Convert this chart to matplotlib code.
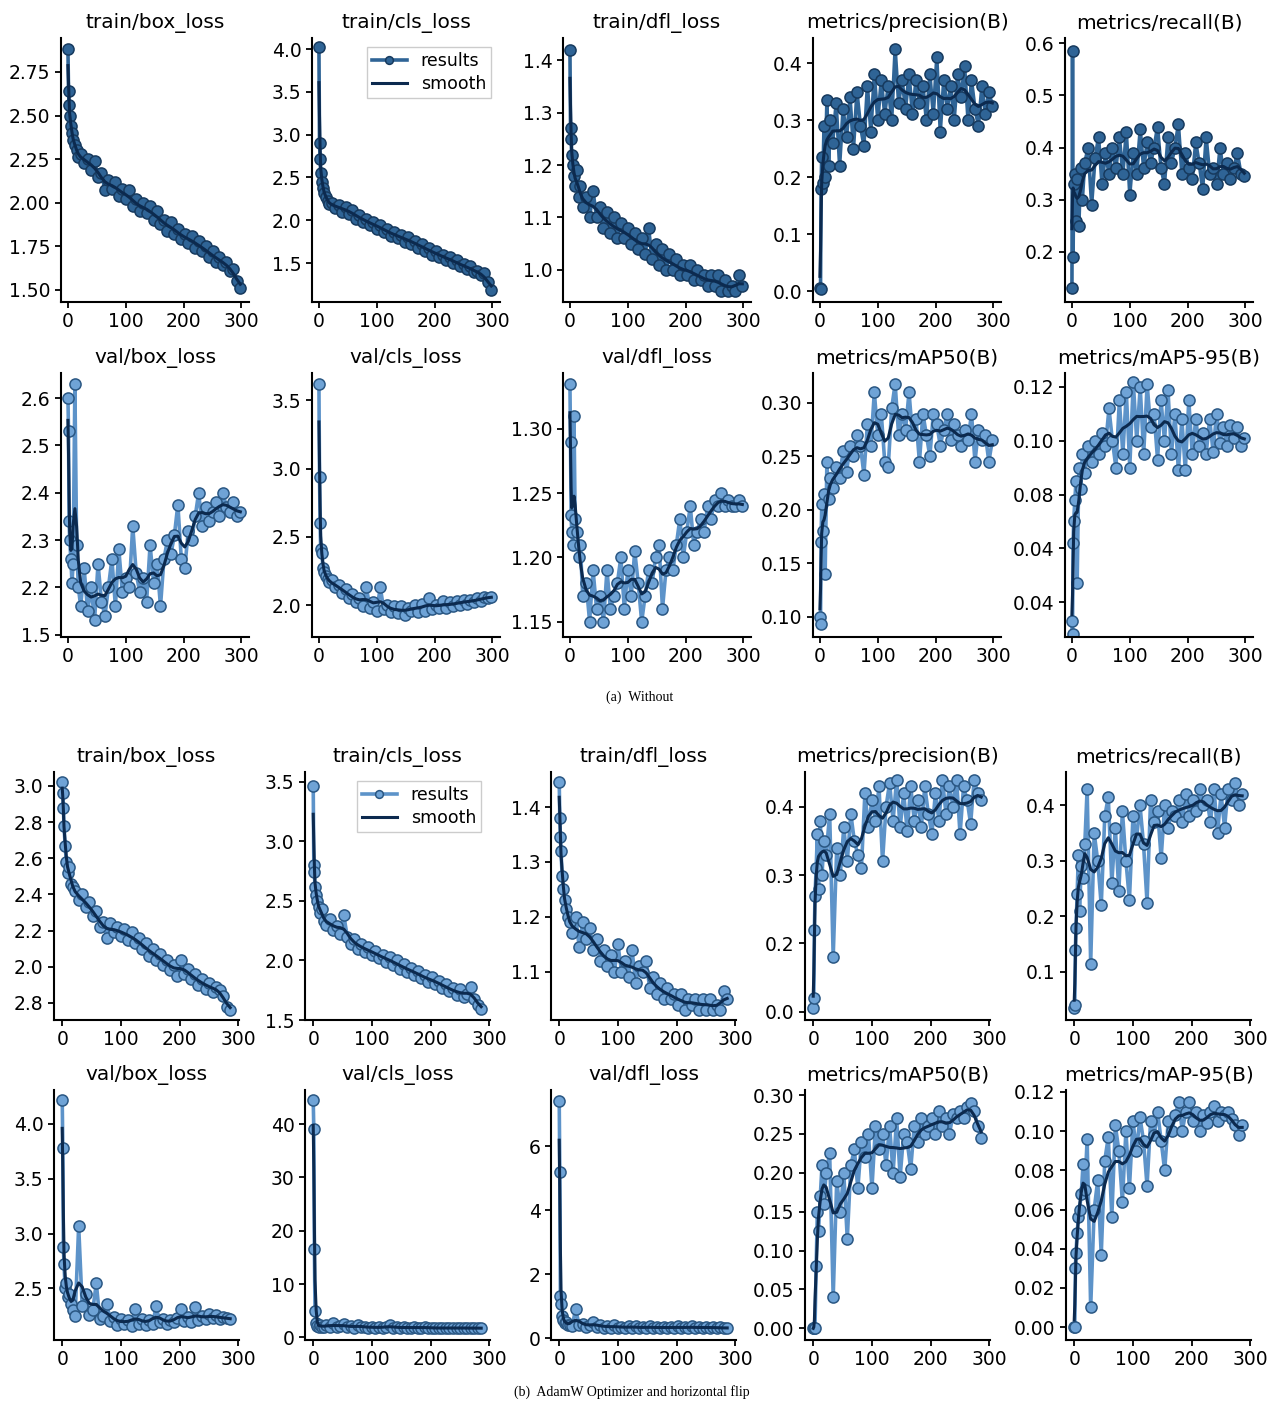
import numpy as np
import matplotlib
matplotlib.use("Agg")
import matplotlib.pyplot as plt

# ---------------- data ----------------
EPOCHS_A = [0, 1, 2, 3, 5, 7, 9, 12, 15, 18,
            22, 28, 34, 40, 46, 52, 58, 64, 70, 76,
            82, 88, 94, 100, 106, 112, 118, 124, 130, 136,
            142, 148, 154, 160, 166, 172, 178, 184, 190, 196,
            202, 208, 214, 220, 226, 232, 238, 244, 250, 256,
            262, 268, 274, 280, 286, 292, 298]
EPOCHS_B = EPOCHS_A[:55]

# (a) Without
a_train_box = [2.88, 2.64, 2.56, 2.50, 2.44, 2.40, 2.36, 2.33, 2.30, 2.26,
               2.28, 2.23, 2.25, 2.19, 2.24, 2.15, 2.17, 2.07, 2.13, 2.08,
               2.12, 2.04, 2.08, 2.02, 2.07, 1.98, 2.02, 1.95, 2.00, 1.94,
               1.98, 1.90, 1.95, 1.88, 1.90, 1.84, 1.89, 1.82, 1.85, 1.79,
               1.82, 1.77, 1.81, 1.74, 1.78, 1.72, 1.75, 1.69, 1.72, 1.66,
               1.69, 1.64, 1.66, 1.61, 1.62, 1.55, 1.51]
a_train_cls = [4.02, 2.90, 2.72, 2.55, 2.45, 2.38, 2.32, 2.27, 2.22, 2.19,
               2.20, 2.14, 2.18, 2.10, 2.16, 2.07, 2.12, 2.02, 2.06, 1.98,
               2.02, 1.94, 1.98, 1.90, 1.95, 1.86, 1.90, 1.82, 1.86, 1.79,
               1.83, 1.75, 1.80, 1.72, 1.76, 1.68, 1.72, 1.64, 1.68, 1.60,
               1.64, 1.57, 1.60, 1.53, 1.57, 1.50, 1.53, 1.46, 1.49, 1.43,
               1.46, 1.39, 1.41, 1.36, 1.38, 1.28, 1.19]
a_train_dfl = [1.42, 1.27, 1.25, 1.22, 1.20, 1.18, 1.16, 1.19, 1.14, 1.16,
               1.12, 1.14, 1.10, 1.15, 1.10, 1.12, 1.08, 1.11, 1.07, 1.10,
               1.06, 1.09, 1.06, 1.08, 1.05, 1.07, 1.04, 1.06, 1.03, 1.08,
               1.02, 1.05, 1.01, 1.04, 1.00, 1.03, 1.00, 1.02, 0.99, 1.01,
               0.99, 1.01, 0.98, 1.00, 0.98, 0.99, 0.97, 0.99, 0.97, 0.99,
               0.96, 0.98, 0.96, 0.97, 0.96, 0.99, 0.97]
a_precision = [0.005, 0.003, 0.18, 0.235, 0.19, 0.29, 0.20, 0.335, 0.22, 0.30,
               0.26, 0.33, 0.22, 0.32, 0.27, 0.34, 0.25, 0.35, 0.29, 0.255,
               0.36, 0.28, 0.38, 0.30, 0.37, 0.31, 0.36, 0.30, 0.425, 0.33,
               0.37, 0.32, 0.38, 0.31, 0.37, 0.33, 0.36, 0.30, 0.38, 0.31,
               0.41, 0.28, 0.37, 0.32, 0.36, 0.30, 0.38, 0.34, 0.395, 0.30,
               0.37, 0.32, 0.29, 0.36, 0.31, 0.35, 0.325]
a_recall = [0.13, 0.585, 0.19, 0.33, 0.35, 0.26, 0.34, 0.25, 0.36, 0.30,
            0.37, 0.40, 0.29, 0.38, 0.42, 0.33, 0.39, 0.35, 0.40, 0.36,
            0.42, 0.35, 0.43, 0.31, 0.39, 0.35, 0.435, 0.36, 0.41, 0.37,
            0.40, 0.44, 0.36, 0.33, 0.42, 0.37, 0.40, 0.445, 0.35, 0.39,
            0.36, 0.34, 0.41, 0.37, 0.32, 0.42, 0.35, 0.36, 0.33, 0.40,
            0.35, 0.37, 0.34, 0.36, 0.39, 0.35, 0.345]
a_val_box = [2.60, 2.53, 2.34, 2.30, 2.26, 2.21, 2.25, 2.63, 2.29, 2.20,
             2.16, 2.24, 2.15, 2.20, 2.13, 2.25, 2.17, 2.14, 2.20, 2.26,
             2.16, 2.28, 2.19, 2.22, 2.20, 2.33, 2.23, 2.19, 2.22, 2.17,
             2.29, 2.21, 2.25, 2.16, 2.26, 2.30, 2.27, 2.31, 2.375, 2.26,
             2.24, 2.32, 2.30, 2.35, 2.40, 2.33, 2.37, 2.34, 2.36, 2.38,
             2.35, 2.40, 2.37, 2.36, 2.38, 2.35, 2.36]
a_val_cls = [3.62, 2.94, 2.60, 2.41, 2.38, 2.27, 2.24, 2.21, 2.19, 2.17,
             2.18, 2.13, 2.15, 2.09, 2.12, 2.05, 2.08, 2.02, 2.05, 1.99,
             2.13, 1.98, 2.02, 1.96, 2.13, 1.97, 2.00, 1.95, 1.99, 1.94,
             1.99, 1.93, 1.98, 1.96, 2.00, 1.95, 2.01, 1.96, 2.05, 1.97,
             2.00, 1.98, 2.03, 1.98, 2.02, 1.99, 2.03, 2.00, 2.04, 2.01,
             2.04, 2.02, 2.05, 2.03, 2.06, 2.05, 2.06]
a_val_dfl = [1.335, 1.29, 1.233, 1.22, 1.21, 1.31, 1.23, 1.22, 1.20, 1.21,
             1.17, 1.18, 1.15, 1.19, 1.16, 1.17, 1.15, 1.19, 1.16, 1.17,
             1.18, 1.20, 1.16, 1.19, 1.17, 1.205, 1.18, 1.15, 1.17, 1.19,
             1.18, 1.20, 1.21, 1.16, 1.19, 1.20, 1.19, 1.21, 1.23, 1.20,
             1.22, 1.24, 1.21, 1.22, 1.23, 1.22, 1.24, 1.23, 1.245, 1.24,
             1.25, 1.24, 1.245, 1.24, 1.24, 1.245, 1.24]
a_map50 = [0.10, 0.093, 0.17, 0.205, 0.18, 0.215, 0.14, 0.245, 0.21, 0.23,
           0.22, 0.24, 0.23, 0.255, 0.235, 0.26, 0.25, 0.27, 0.26, 0.233,
           0.28, 0.26, 0.31, 0.27, 0.29, 0.245, 0.24, 0.295, 0.318, 0.27,
           0.29, 0.275, 0.31, 0.27, 0.285, 0.245, 0.29, 0.27, 0.25, 0.29,
           0.28, 0.26, 0.275, 0.29, 0.265, 0.28, 0.27, 0.26, 0.275, 0.265,
           0.29, 0.245, 0.275, 0.265, 0.27, 0.245, 0.265]
a_map5095 = [0.033, 0.028, 0.062, 0.07, 0.078, 0.085, 0.047, 0.09, 0.082, 0.095,
             0.088, 0.098, 0.092, 0.10, 0.095, 0.103, 0.098, 0.112, 0.10, 0.09,
             0.115, 0.095, 0.118, 0.09, 0.122, 0.10, 0.12, 0.095, 0.121, 0.105,
             0.11, 0.093, 0.115, 0.10, 0.119, 0.095, 0.11, 0.089, 0.108, 0.089,
             0.115, 0.095, 0.108, 0.098, 0.103, 0.095, 0.108, 0.096, 0.11, 0.099,
             0.105, 0.098, 0.106, 0.101, 0.105, 0.098, 0.101]

# (b) AdamW Optimizer and horizontal flip
b_train_box = [3.02, 2.96, 2.88, 2.78, 2.67, 2.58, 2.52, 2.55, 2.46, 2.44,
               2.42, 2.37, 2.40, 2.33, 2.36, 2.28, 2.31, 2.22, 2.25, 2.16,
               2.24, 2.19, 2.22, 2.17, 2.21, 2.15, 2.19, 2.13, 2.16, 2.10,
               2.13, 2.06, 2.10, 2.04, 2.07, 2.01, 2.04, 1.98, 2.01, 1.95,
               2.04, 1.96, 1.99, 1.93, 1.96, 1.90, 1.93, 1.88, 1.91, 1.86,
               1.89, 1.87, 1.84, 1.78, 1.76]
b_train_cls = [3.47, 2.80, 2.74, 2.62, 2.55, 2.50, 2.45, 2.40, 2.43, 2.33,
               2.30, 2.35, 2.26, 2.29, 2.22, 2.38, 2.20, 2.14, 2.18, 2.10,
               2.14, 2.07, 2.11, 2.05, 2.08, 2.02, 2.05, 1.99, 2.03, 1.96,
               2.00, 1.93, 1.97, 1.90, 1.94, 1.88, 1.91, 1.85, 1.88, 1.82,
               1.86, 1.80, 1.83, 1.77, 1.80, 1.74, 1.77, 1.71, 1.76, 1.69,
               1.72, 1.78, 1.68, 1.63, 1.59]
b_train_dfl = [1.445, 1.38, 1.345, 1.32, 1.275, 1.25, 1.23, 1.215, 1.20, 1.19,
               1.17, 1.20, 1.145, 1.19, 1.16, 1.18, 1.14, 1.16, 1.12, 1.14,
               1.11, 1.13, 1.10, 1.15, 1.10, 1.12, 1.09, 1.14, 1.08, 1.11,
               1.10, 1.12, 1.07, 1.09, 1.06, 1.08, 1.05, 1.07, 1.05, 1.06,
               1.04, 1.06, 1.03, 1.05, 1.04, 1.05, 1.03, 1.05, 1.03, 1.05,
               1.03, 1.04, 1.03, 1.065, 1.05]
b_precision = [0.105, 0.12, 0.22, 0.27, 0.31, 0.36, 0.28, 0.38, 0.30, 0.35,
               0.33, 0.39, 0.18, 0.34, 0.30, 0.37, 0.32, 0.39, 0.35, 0.33,
               0.31, 0.42, 0.37, 0.41, 0.38, 0.43, 0.32, 0.40, 0.435, 0.38,
               0.44, 0.37, 0.42, 0.365, 0.43, 0.38, 0.41, 0.37, 0.43, 0.39,
               0.36, 0.42, 0.38, 0.44, 0.39, 0.43, 0.40, 0.44, 0.36, 0.43,
               0.41, 0.375, 0.44, 0.42, 0.41]
b_recall = [0.035, 0.04, 0.14, 0.18, 0.24, 0.31, 0.21, 0.29, 0.27, 0.33,
            0.43, 0.115, 0.35, 0.30, 0.22, 0.38, 0.415, 0.26, 0.36, 0.245,
            0.39, 0.30, 0.23, 0.38, 0.34, 0.40, 0.33, 0.225, 0.41, 0.37,
            0.39, 0.305, 0.40, 0.36, 0.39, 0.38, 0.41, 0.37, 0.42, 0.38,
            0.41, 0.39, 0.43, 0.40, 0.41, 0.37, 0.43, 0.35, 0.42, 0.36,
            0.43, 0.41, 0.44, 0.40, 0.42]
b_val_box = [4.22, 3.78, 2.88, 2.72, 2.50, 2.55, 2.42, 2.45, 2.36, 2.30,
             2.25, 3.07, 2.34, 2.45, 2.26, 2.30, 2.55, 2.22, 2.25, 2.36,
             2.20, 2.24, 2.17, 2.22, 2.18, 2.21, 2.16, 2.31, 2.18, 2.22,
             2.17, 2.21, 2.18, 2.34, 2.19, 2.22, 2.18, 2.21, 2.19, 2.23,
             2.31, 2.20, 2.24, 2.19, 2.33, 2.21, 2.25, 2.22, 2.27, 2.23,
             2.26, 2.22, 2.24, 2.23, 2.22]
b_val_cls = [44.5, 39.0, 16.5, 5.0, 2.6, 2.2, 2.0, 2.4, 2.0, 1.9,
             2.3, 2.0, 2.6, 1.9, 2.2, 2.5, 1.9, 2.1, 1.8, 2.4,
             1.9, 2.0, 1.8, 2.0, 1.8, 1.9, 1.8, 1.9, 2.3, 1.8,
             1.9, 1.8, 1.9, 1.8, 1.8, 1.9, 1.8, 1.8, 1.9, 1.8,
             1.8, 1.7, 1.8, 1.7, 1.8, 1.7, 1.8, 1.7, 1.8, 1.7,
             1.8, 1.7, 1.7, 1.8, 1.7]
b_val_dfl = [7.4, 5.2, 1.3, 1.05, 0.70, 0.55, 0.48, 0.50, 0.40, 0.42,
             0.38, 0.90, 0.40, 0.45, 0.35, 0.40, 0.50, 0.35, 0.42, 0.33,
             0.38, 0.32, 0.40, 0.33, 0.36, 0.31, 0.37, 0.32, 0.38, 0.30,
             0.35, 0.31, 0.38, 0.30, 0.35, 0.31, 0.36, 0.30, 0.35, 0.31,
             0.37, 0.30, 0.35, 0.31, 0.38, 0.30, 0.35, 0.31, 0.36, 0.30,
             0.35, 0.31, 0.34, 0.30, 0.32]
b_map50 = [0.0, 0.0, 0.0, 0.0, 0.08, 0.15, 0.125, 0.17, 0.21, 0.16,
           0.20, 0.225, 0.04, 0.19, 0.15, 0.20, 0.115, 0.21, 0.23, 0.18,
           0.24, 0.22, 0.25, 0.18, 0.26, 0.23, 0.25, 0.21, 0.26, 0.20,
           0.27, 0.195, 0.25, 0.24, 0.205, 0.26, 0.24, 0.27, 0.25, 0.26,
           0.27, 0.25, 0.28, 0.26, 0.27, 0.25, 0.275, 0.27, 0.28, 0.27,
           0.285, 0.29, 0.28, 0.26, 0.245]
b_map95 = [0.0, 0.0, 0.03, 0.038, 0.048, 0.056, 0.06, 0.068, 0.083, 0.07,
           0.096, 0.01, 0.06, 0.075, 0.037, 0.085, 0.097, 0.056, 0.103, 0.09,
           0.064, 0.10, 0.071, 0.105, 0.09, 0.107, 0.095, 0.072, 0.105, 0.098,
           0.11, 0.095, 0.08, 0.105, 0.10, 0.108, 0.115, 0.10, 0.11, 0.115,
           0.105, 0.11, 0.10, 0.108, 0.104, 0.11, 0.113, 0.105, 0.11, 0.108,
           0.11, 0.106, 0.103, 0.098, 0.103]

TITLES_A = ["train/box_loss", "train/cls_loss", "train/dfl_loss",
            "metrics/precision(B)", "metrics/recall(B)",
            "val/box_loss", "val/cls_loss", "val/dfl_loss",
            "metrics/mAP50(B)", "metrics/mAP5-95(B)"]
TITLES_B = ["train/box_loss", "train/cls_loss", "train/dfl_loss",
            "metrics/precision(B)", "metrics/recall(B)",
            "val/box_loss", "val/cls_loss", "val/dfl_loss",
            "metrics/mAP50(B)", "metrics/mAP-95(B)"]

# y tick positions and the text printed at them (as printed in the figure)
TICKS_A = [
    ([1.50, 1.75, 2.00, 2.25, 2.50, 2.75], ["1.50", "1.75", "2.00", "2.25", "2.50", "2.75"]),
    ([1.5, 2.0, 2.5, 3.0, 3.5, 4.0], ["1.5", "2.0", "2.5", "3.0", "3.5", "4.0"]),
    ([1.0, 1.1, 1.2, 1.3, 1.4], ["1.0", "1.1", "1.2", "1.3", "1.4"]),
    ([0.0, 0.1, 0.2, 0.3, 0.4], ["0.0", "0.1", "0.2", "0.3", "0.4"]),
    ([0.2, 0.3, 0.4, 0.5, 0.6], ["0.2", "0.3", "0.4", "0.5", "0.6"]),
    ([2.1, 2.2, 2.3, 2.4, 2.5, 2.6], ["1.5", "2.2", "2.3", "2.4", "2.5", "2.6"]),
    ([2.0, 2.5, 3.0, 3.5], ["2.0", "2.5", "3.0", "3.5"]),
    ([1.15, 1.20, 1.25, 1.30], ["1.15", "1.20", "1.25", "1.30"]),
    ([0.10, 0.15, 0.20, 0.25, 0.30], ["0.10", "0.15", "0.20", "0.25", "0.30"]),
    ([0.04, 0.06, 0.08, 0.10, 0.12], ["0.04", "0.04", "0.08", "0.10", "0.12"]),
]
TICKS_B = [
    ([1.8, 2.0, 2.2, 2.4, 2.6, 2.8, 3.0], ["2.8", "2.0", "2.2", "2.4", "2.6", "2.8", "3.0"]),
    ([1.5, 2.0, 2.5, 3.0, 3.5], ["1.5", "2.0", "2.5", "3.0", "3.5"]),
    ([1.1, 1.2, 1.3, 1.4], ["1.1", "1.2", "1.3", "1.4"]),
    ([0.1, 0.2, 0.3, 0.4], ["0.0", "0.2", "0.3", "0.4"]),
    ([0.1, 0.2, 0.3, 0.4], ["0.1", "0.2", "0.3", "0.4"]),
    ([2.5, 3.0, 3.5, 4.0], ["2.5", "3.0", "3.5", "4.0"]),
    ([0, 10, 20, 30, 40], ["0", "10", "20", "30", "40"]),
    ([0, 2, 4, 6], ["0", "2", "4", "6"]),
    ([0.0, 0.05, 0.10, 0.15, 0.20, 0.25, 0.30], ["0.00", "0.05", "0.10", "0.15", "0.20", "0.25", "0.30"]),
    ([0.0, 0.02, 0.04, 0.06, 0.08, 0.10, 0.12], ["0.00", "0.02", "0.04", "0.06", "0.08", "0.10", "0.12"]),
]

SERIES_A = [a_train_box, a_train_cls, a_train_dfl, a_precision, a_recall,
            a_val_box, a_val_cls, a_val_dfl, a_map50, a_map5095]
SERIES_B = [b_train_box, b_train_cls, b_train_dfl, b_precision, b_recall,
            b_val_box, b_val_cls, b_val_dfl, b_map50, b_map95]

YLIM_A = [(1.43, 2.945), (1.045, 4.13), (0.939, 1.442), (-0.019, 0.444), (0.104, 0.61),
          (2.095, 2.653), (1.766, 3.70), (1.138, 1.3435), (0.081, 0.328), (0.027, 0.1252)]
YLIM_B = [(1.706, 3.077), (1.5, 3.584), (1.012, 1.464), (0.088, 0.451), (0.0135, 0.46),
          (2.03, 4.31), (-0.5, 46.4), (-0.06, 7.75), (-0.015, 0.3065), (-0.0066, 0.121)]

W, H = 1277, 1403
FIG = plt.figure(figsize=(W / 100, H / 100), dpi=100)
plt.rcParams['font.family'] = 'DejaVu Sans'


def smooth(y, sigma=1.3):
    y = np.asarray(y, float)
    r = int(3 * sigma)
    k = np.exp(-0.5 * (np.arange(-r, r + 1) / sigma) ** 2)
    k /= k.sum()
    return np.convolve(np.pad(y, r, mode='edge'), k, mode='valid')


def px_axes(left, top, width, height):
    """add an axes given in pixel coords measured from the top-left corner"""
    return FIG.add_axes([left / W, 1 - (top + height) / H, width / W, height / H])


def draw_panel(ax, x, y, title, ticks, ylim, xlim, dark, legend=False):
    if dark:
        lc, fc, ec = '#2f6496', '#2f6496', '#173a5e'
    else:
        lc, fc, ec = '#5d93c9', '#6fa3d6', '#2a5783'
    ax.plot(x, y, '-o', color=lc, lw=2.6, ms=8, mfc=fc, mec=ec, mew=1.1,
            label='results')
    ax.plot(x, smooth(y), '-', color='#0c2a4f', lw=2.2, label='smooth')
    ax.set_title(title, fontsize=14.5, pad=7)
    ax.set_xlim(*xlim)
    ax.set_ylim(*ylim)
    ax.set_xticks([0, 100, 200, 300])
    ax.set_yticks(ticks[0])
    ax.set_yticklabels(ticks[1])
    ax.tick_params(labelsize=13.5, width=1.3, length=4)
    for s in ('top', 'right'):
        ax.spines[s].set_visible(False)
    for s in ('left', 'bottom'):
        ax.spines[s].set_linewidth(1.5)
    if legend:
        ax.legend(loc='upper right', fontsize=12.5, handlelength=2.0,
                  borderpad=0.3, labelspacing=0.3, framealpha=1,
                  edgecolor='#cccccc', fancybox=False, markerscale=0.7)


# block (a)
COLS_A = [61, 312, 563, 813, 1065]
ROWS_A = [(38, 264), (373, 264)]
for i in range(10):
    r, c = divmod(i, 5)
    ax = px_axes(COLS_A[c], ROWS_A[r][0], 188, ROWS_A[r][1])
    draw_panel(ax, EPOCHS_A, SERIES_A[i], TITLES_A[i], TICKS_A[i], YLIM_A[i],
               (-12, 313), dark=(r == 0), legend=(i == 1))

# block (b)
COLS_B = [54, 305, 551, 805, 1066]
ROWS_B = [(772, 248), (1090, 250)]
for i in range(10):
    r, c = divmod(i, 5)
    ax = px_axes(COLS_B[c], ROWS_B[r][0], 185, ROWS_B[r][1])
    draw_panel(ax, EPOCHS_B, SERIES_B[i], TITLES_B[i], TICKS_B[i], YLIM_B[i],
               (-14, 301), dark=False, legend=(i == 1))

FIG.text(640 / W, 1 - 697 / H, "(a)  Without", ha='center', va='center',
         fontsize=10, family='Liberation Serif')
FIG.text(632 / W, 1 - 1392 / H, "(b)  AdamW Optimizer and horizontal flip",
         ha='center', va='center', fontsize=10, family='Liberation Serif')

FIG.savefig("out.png", dpi=100)
